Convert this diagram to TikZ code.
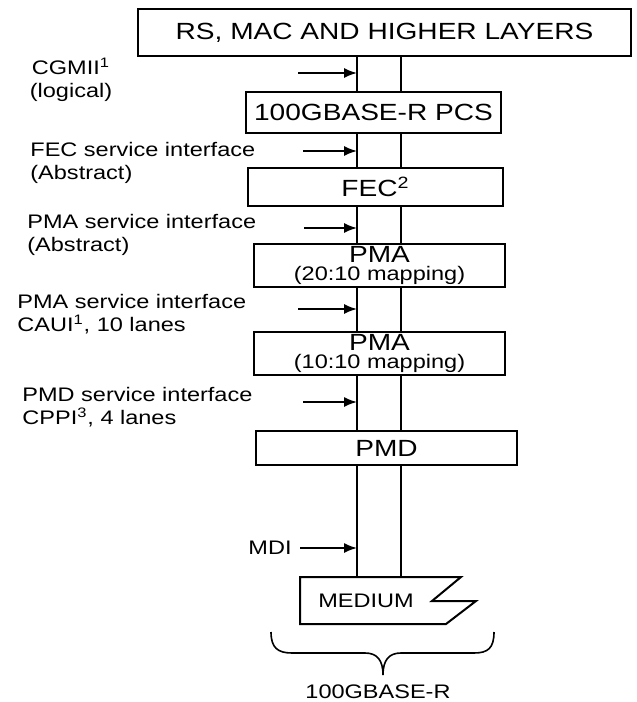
\documentclass[tikz,border=0pt]{standalone}
\usepackage{fontspec}
\setmainfont{Liberation Sans}[FakeStretch=1.2]
\usetikzlibrary{arrows.meta}

\newcommand{\lblfont}{\fontsize{9.8}{11.5}\selectfont}
\newcommand{\boxfont}{\fontsize{11.7}{11.5}\selectfont}

\begin{document}
\begin{tikzpicture}[x=0.5pt,y=-0.5pt,
  layer/.style={draw,line width=1pt,fill=white,inner sep=0pt,font=\boxfont,align=center},
  lbl/.style={font=\lblfont,inner sep=0pt,align=left,anchor=west},
  wire/.style={line width=0.8pt},
  sig/.style={line width=0.8pt,-{Latex[length=6.5pt,width=5pt]}}]
  \useasboundingbox (0,0) rectangle (637,702);
  % the two lines of the stack
  \coordinate (wl) at (357,0);
  \coordinate (wr) at (401,0);
  \coordinate (mtop) at (380,577);
  % layers
  \node[layer,minimum width=246.5pt,minimum height=23.5pt] (top) at (384.5,32.5) {RS, MAC AND HIGHER LAYERS};
  \node[layer,minimum width=127.5pt,minimum height=20.5pt] (pcs) at (373.5,112.5) {100GBASE-R PCS};
  \node[layer,minimum width=127.5pt,minimum height=19pt] (fec) at (375.5,187) {FEC\textsuperscript{2}};
  \node[layer,minimum width=125.5pt,minimum height=21.5pt] (pmaA) at (379.5,265.5) {PMA\\[-2.6pt]{\lblfont(20:10 mapping)}};
  \node[layer,minimum width=125.5pt,minimum height=21.5pt] (pmaB) at (379.5,353.5) {PMA\\[-2.6pt]{\lblfont(10:10 mapping)}};
  \node[layer,minimum width=130.5pt,minimum height=17pt] (pmd) at (386.5,448) {PMD};
  \draw[line width=1pt] (300,577) -- (461,577) -- (432,601) -- (476,601) -- (446,624) -- (300,624) -- cycle;
  \node[font=\lblfont,inner sep=0pt] (medium) at (366,601) {MEDIUM};
  % wires between layers
  \foreach \a/\b in {top/pcs,pcs/fec,fec/pmaA,pmaA/pmaB,pmaB/pmd}
    \draw[wire] (\a.south -| wl) -- (\b.north -| wl) (\a.south -| wr) -- (\b.north -| wr);
  \draw[wire] (pmd.south -| wl) -- (mtop -| wl) (pmd.south -| wr) -- (mtop -| wr);
  % interfaces
  \node[lbl,anchor=center,align=center] (cgmii) at (71,80) {CGMII\textsuperscript{1}\\(logical)};
  \node[lbl] (fecsi) at (30,162.5) {FEC service interface\\(Abstract)};
  \node[lbl] (pmasiA) at (27,234.5) {PMA service interface\\(Abstract)};
  \node[lbl] (pmasiB) at (17,314) {PMA service interface\\CAUI\textsuperscript{1}, 10 lanes};
  \node[lbl] (pmdsi) at (22,407.5) {PMD service interface\\CPPI\textsuperscript{3}, 4 lanes};
  \node[lbl,anchor=east] (mdi) at (292,548) {MDI};
  \coordinate (t1) at (298,73);
  \coordinate (t2) at (303,151);
  \coordinate (t3) at (304,228);
  \coordinate (t4) at (298,309);
  \coordinate (t5) at (303,402);
  \coordinate (t6) at (300,548);
  \foreach \i in {1,...,6}
    \draw[sig] (t\i) -- (t\i -| wl);
  % brace
  \draw[wire] (271,632) .. controls (271,648) and (278,653) .. (292,653) -- (365,653)
    .. controls (377,653) and (383,660) .. (383,675)
    .. controls (383,660) and (389,653) .. (401,653) -- (474,653)
    .. controls (488,653) and (494,648) .. (494,632);
  \node[font=\lblfont,inner sep=0pt] (phy) at (378,692) {100GBASE-R};
\end{tikzpicture}
\end{document}
